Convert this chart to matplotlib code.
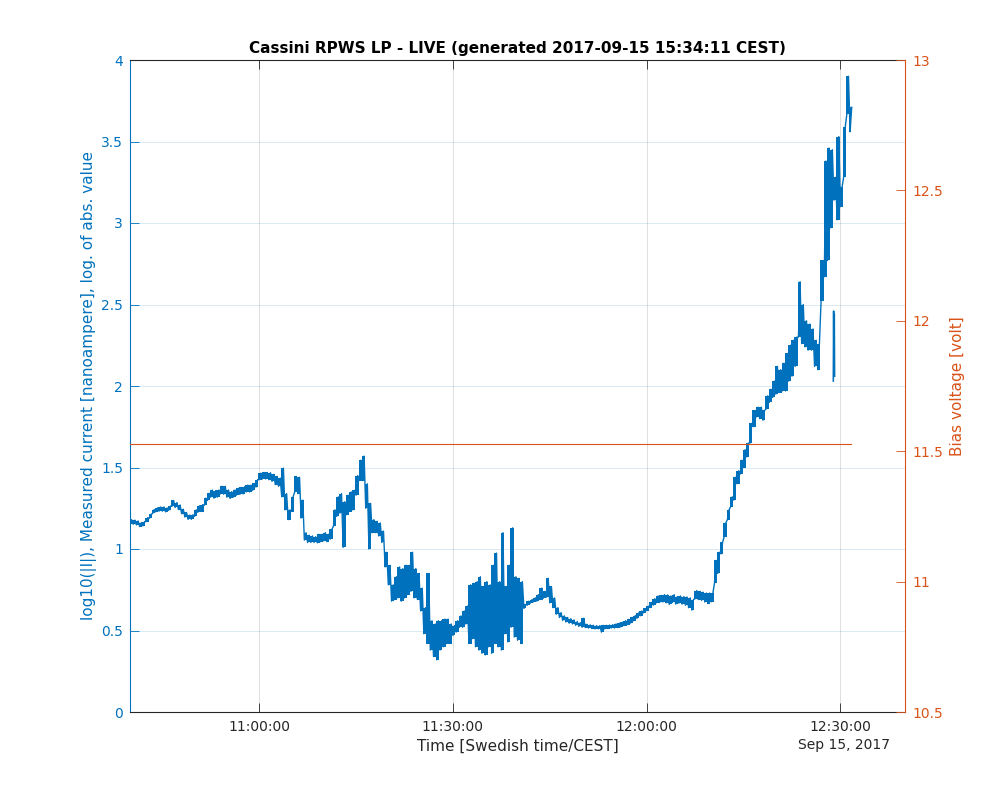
import numpy as np
import matplotlib
matplotlib.use("Agg")
import matplotlib.pyplot as plt
import matplotlib.dates as mdates
from matplotlib.ticker import FuncFormatter, MultipleLocator

BLUE, ORANGE, DARK = "#0072BD", "#D95319", "#262626"

T0 = np.datetime64("2017-09-15T10:40:00")

# current trace, log10(|I|): envelope (low / high), one pair per 30 s from 10:40:00
current_lo = [
    1.155, 1.152, 1.148, 1.138, 1.142, 1.168, 1.188, 1.218, 1.228, 1.232,
    1.232, 1.228, 1.237, 1.262, 1.255, 1.242, 1.216, 1.196, 1.182, 1.182,
    1.200, 1.225, 1.230, 1.268, 1.298, 1.318, 1.312, 1.318, 1.338, 1.336,
    1.318, 1.310, 1.318, 1.330, 1.335, 1.338, 1.350, 1.350, 1.360, 1.380,
    1.425, 1.430, 1.430, 1.425, 1.415, 1.395, 1.385, 1.320, 1.240, 1.180,
    1.230, 1.350, 1.340, 1.190, 1.055, 1.040, 1.040, 1.040, 1.038, 1.045,
    1.050, 1.045, 1.060, 1.140, 1.200, 1.220, 1.010, 1.210, 1.230, 1.240,
    1.330, 1.420, 1.420, 1.250, 1.000, 1.100, 1.100, 1.080, 1.040, 0.890,
    0.780, 0.680, 0.690, 0.700, 0.680, 0.700, 0.720, 0.740, 0.700, 0.690,
    0.620, 0.480, 0.420, 0.380, 0.340, 0.320, 0.380, 0.400, 0.420, 0.420,
    0.470, 0.490, 0.520, 0.520, 0.540, 0.420, 0.450, 0.400, 0.380, 0.360,
    0.350, 0.400, 0.360, 0.420, 0.400, 0.380, 0.480, 0.430, 0.520, 0.460,
    0.440, 0.420, 0.635, 0.655, 0.668, 0.676, 0.680, 0.690, 0.698, 0.705,
    0.670, 0.640, 0.600, 0.580, 0.562, 0.552, 0.545, 0.540, 0.532, 0.525,
    0.520, 0.518, 0.515, 0.512, 0.510, 0.510, 0.490, 0.510, 0.512, 0.515,
    0.515, 0.518, 0.522, 0.530, 0.536, 0.545, 0.560, 0.575, 0.590, 0.608,
    0.622, 0.640, 0.655, 0.670, 0.672, 0.675, 0.670, 0.660, 0.672, 0.662,
    0.668, 0.662, 0.655, 0.640, 0.625, 0.695, 0.690, 0.685, 0.675, 0.665,
    0.676, 0.790, 0.850, 0.970, 1.075, 1.180, 1.260, 1.300, 1.400, 1.460,
    1.500, 1.565, 1.650, 1.750, 1.810, 1.800, 1.790, 1.860, 1.900, 1.930,
    1.950, 1.960, 1.970, 1.970, 2.030, 2.060, 2.120, 2.300, 2.260, 2.240,
    2.220, 2.220, 2.120, 2.100, 2.520, 2.670, 2.770, 2.970, 3.140, 3.020,
    3.100, 3.280, 3.670, 3.560,
]
current_hi = [
    1.180, 1.177, 1.172, 1.162, 1.168, 1.192, 1.212, 1.242, 1.252, 1.258,
    1.258, 1.252, 1.263, 1.298, 1.285, 1.270, 1.244, 1.224, 1.208, 1.210,
    1.240, 1.265, 1.272, 1.312, 1.342, 1.362, 1.358, 1.362, 1.385, 1.384,
    1.362, 1.352, 1.362, 1.372, 1.378, 1.382, 1.392, 1.392, 1.402, 1.425,
    1.465, 1.470, 1.470, 1.468, 1.458, 1.445, 1.435, 1.496, 1.340, 1.240,
    1.320, 1.445, 1.440, 1.300, 1.100, 1.085, 1.080, 1.075, 1.090, 1.090,
    1.100, 1.090, 1.120, 1.240, 1.320, 1.340, 1.290, 1.330, 1.350, 1.360,
    1.450, 1.545, 1.570, 1.400, 1.280, 1.180, 1.170, 1.160, 1.110, 0.980,
    0.900, 0.780, 0.830, 0.890, 0.880, 0.900, 0.900, 0.980, 0.880, 0.850,
    0.760, 0.640, 0.850, 0.560, 0.540, 0.560, 0.560, 0.570, 0.570, 0.540,
    0.530, 0.560, 0.590, 0.620, 0.650, 0.780, 0.790, 0.800, 0.830, 0.770,
    0.800, 0.780, 0.900, 0.975, 0.800, 1.100, 0.770, 0.900, 1.130, 0.830,
    0.820, 0.800, 0.660, 0.680, 0.690, 0.700, 0.720, 0.760, 0.740, 0.820,
    0.770, 0.700, 0.640, 0.610, 0.590, 0.580, 0.572, 0.565, 0.555, 0.548,
    0.575, 0.538, 0.535, 0.532, 0.530, 0.530, 0.532, 0.532, 0.534, 0.536,
    0.540, 0.545, 0.550, 0.560, 0.568, 0.580, 0.592, 0.608, 0.620, 0.635,
    0.650, 0.672, 0.695, 0.712, 0.715, 0.720, 0.718, 0.712, 0.720, 0.708,
    0.712, 0.708, 0.705, 0.700, 0.690, 0.745, 0.740, 0.735, 0.730, 0.730,
    0.730, 0.930, 0.980, 1.040, 1.160, 1.240, 1.320, 1.440, 1.480, 1.545,
    1.610, 1.650, 1.770, 1.850, 1.870, 1.870, 1.850, 1.940, 1.980, 2.030,
    2.120, 2.100, 2.140, 2.200, 2.250, 2.280, 2.300, 2.640, 2.500, 2.400,
    2.380, 2.350, 2.280, 2.260, 2.770, 3.380, 3.460, 3.450, 3.280, 3.530,
    3.220, 3.590, 3.900, 3.710,
]
# short detached piece of the trace near 12:29
island_min = [108.90, 108.95, 109.00, 109.05, 109.10]
island_val = [2.03, 2.46, 2.10, 2.44, 2.06]

# bias voltage: constant over the whole interval
bias_min = [0.0, 111.6]
bias_volt = [11.527, 11.527]


def to_time(minutes):
    sec = np.round(np.asarray(minutes, dtype=float) * 60).astype(int)
    return T0 + sec.astype("timedelta64[s]")


def main():
    plt.rcParams.update({"font.family": "DejaVu Sans", "font.size": 10})
    fig = plt.figure(figsize=(10, 8), dpi=100)
    ax = fig.add_axes([0.13, 0.11, 0.775, 0.815])
    ax2 = ax.twinx()

    # the trace is sampled much faster than a pixel: show it as its low/high
    # envelope per 30 s (filled) with a zig-zag through the same values on top
    m = np.arange(len(current_lo)) * 0.5
    ax.fill_between(to_time(m + 0.125), current_lo, current_hi, step="mid",
                    color=BLUE, lw=0)
    xs = np.column_stack([m, m + 0.25]).ravel()
    ys = np.column_stack([current_lo, current_hi]).ravel()
    ax.plot(to_time(xs), ys, color=BLUE, lw=1.0)
    ax.plot(to_time(island_min), island_val, color=BLUE, lw=1.15)

    ax2.plot(to_time(bias_min), bias_volt, color=ORANGE, lw=0.8)

    ax.set_xlim(T0, T0 + np.timedelta64(120, "m"))
    ax.set_ylim(0, 4)
    ax2.set_ylim(10.5, 13)

    ax.xaxis.set_major_locator(mdates.MinuteLocator(byminute=[0, 30]))
    ax.xaxis.set_major_formatter(mdates.DateFormatter("%H:%M:%S"))
    ax.yaxis.set_major_locator(MultipleLocator(0.5))
    ax2.yaxis.set_major_locator(MultipleLocator(0.5))
    fmt = FuncFormatter(lambda v, p: f"{v:g}")
    ax.yaxis.set_major_formatter(fmt)
    ax2.yaxis.set_major_formatter(fmt)

    ax.grid(axis="x", color=DARK, alpha=0.15, lw=0.7)
    ax.grid(axis="y", color=BLUE, alpha=0.15, lw=0.7)

    ax.tick_params(axis="x", direction="in", length=6.5, width=0.6, top=True,
                   colors=DARK, labelsize=10, pad=6)
    ax.tick_params(axis="y", direction="in", length=6.5, width=0.6,
                   colors=BLUE, labelsize=10, pad=5)
    ax2.tick_params(axis="y", direction="in", length=6.5, width=0.6,
                    colors=ORANGE, labelsize=10, pad=5)

    for s in ("top", "bottom"):
        ax.spines[s].set_color(DARK)
        ax.spines[s].set_linewidth(0.8)
        ax2.spines[s].set_visible(False)
    ax.spines["right"].set_visible(False)
    ax2.spines["left"].set_visible(False)
    ax.spines["left"].set_color(BLUE)
    ax.spines["left"].set_linewidth(0.8)
    ax2.spines["right"].set_color(ORANGE)
    ax2.spines["right"].set_linewidth(0.8)

    ax.set_ylabel("log10(|I|), Measured current [nanoampere], log. of abs. value",
                  color=BLUE, fontsize=11, labelpad=3)
    ax2.set_ylabel("Bias voltage [volt]", color=ORANGE, fontsize=11, labelpad=5.5)
    ax.set_xlabel("Time [Swedish time/CEST]", color=DARK, fontsize=11, labelpad=3)
    fig.text(0.844, 1 - 745 / 800, "Sep 15, 2017", color=DARK, fontsize=10,
             ha="center", va="center")
    ax.set_title("Cassini RPWS LP - LIVE (generated 2017-09-15 15:34:11 CEST)",
                 fontsize=11, fontweight="bold", color="black", pad=5)

    fig.savefig("out.png", dpi=100)


if __name__ == "__main__":
    main()
